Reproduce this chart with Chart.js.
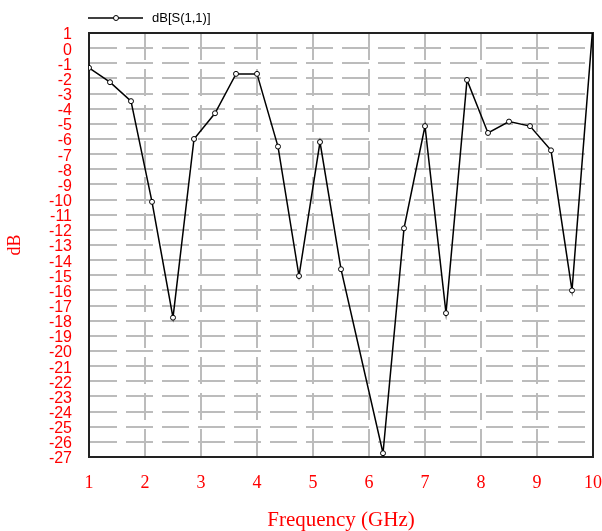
<!DOCTYPE html>
<html>
<head>
<meta charset="utf-8">
<script src="https://cdn.jsdelivr.net/npm/chart.js@4/dist/chart.umd.min.js"></script>
<style>
  html, body { margin: 0; padding: 0; background: #fff; }
  #wrap { width: 602px; height: 531px; }
</style>
</head>
<body>
<div id="wrap"><canvas id="s11Chart" width="602" height="531"></canvas></div>
<script>
// sweep points (GHz) and return loss (dB)
const freqGHz = [1, 1.375, 1.75, 2.125, 2.5, 2.875, 3.25, 3.625, 4.0, 4.375, 4.75, 5.125,
                 5.5, 6.25, 6.625, 7.0, 7.375, 7.75, 8.125, 8.5, 8.875, 9.25, 9.625, 10];
const s11dB = [-1.3, -2.25, -3.5, -10.15, -17.8, -6.0, -4.3, -1.7, -1.7, -6.5, -15.05, -6.2,
               -14.6, -26.75, -11.9, -5.15, -17.5, -2.1, -5.6, -4.85, -5.15, -6.75, -16.0, 1.6];
const seriesName = 'dB[S(1,1)]';
const xTitle = 'Frequency (GHz)';
const yTitle = 'dB';

const RED = '#ff0000';
const GRID = '#bcbcbc';

// frame around the plot + legend line with marker
const framePlugin = {
    id: 'frame',
    beforeDatasetsDraw(chart) {
        const { ctx, chartArea: a } = chart;
        ctx.save();
        ctx.strokeStyle = '#222';
        ctx.lineWidth = 2;
        ctx.strokeRect(a.left, a.top, a.right - a.left, a.bottom - a.top);
        ctx.restore();
    },
    afterDraw(chart) {
        const ctx = chart.ctx;
        const ds = chart.data.datasets[0];
        ctx.save();
        ctx.strokeStyle = '#000';
        ctx.lineWidth = 1.5;
        ctx.beginPath();
        ctx.moveTo(88, 18);
        ctx.lineTo(143, 18);
        ctx.stroke();
        ctx.beginPath();
        ctx.arc(116, 18, 2.5, 0, Math.PI * 2);
        ctx.fillStyle = '#fff';
        ctx.fill();
        ctx.lineWidth = 1;
        ctx.stroke();
        ctx.fillStyle = '#000';
        ctx.font = '13px "Liberation Sans", sans-serif';
        ctx.textBaseline = 'middle';
        ctx.fillText(ds.label, 152, 18);
        ctx.restore();
    }
};

const ctx = document.getElementById('s11Chart').getContext('2d');
new Chart(ctx, {
    type: 'line',
    data: {
        datasets: [{
            label: seriesName,
            data: freqGHz.map((f, i) => ({ x: f, y: s11dB[i] })),
            borderColor: '#000',
            borderWidth: 1.5,
            pointRadius: 2.5,
            pointBorderWidth: 1,
            pointBackgroundColor: '#fff',
            pointBorderColor: '#000',
            tension: 0
        }]
    },
    options: {
        responsive: false,
        animation: false,
        layout: { padding: { top: 33, right: 9, left: 0, bottom: 0 } },
        plugins: {
            legend: { display: false },
            tooltip: { enabled: false }
        },
        scales: {
            x: {
                type: 'linear',
                min: 1,
                max: 10,
                afterFit: s => { s.height = 74; s.paddingLeft = 0; s.paddingRight = 0; },
                ticks: {
                    stepSize: 1,
                    color: RED,
                    padding: 15,
                    maxRotation: 0,
                    font: { family: '"Liberation Serif", serif', size: 18 }
                },
                grid: { color: GRID, lineWidth: 2, drawTicks: false },
                border: { color: '#222', width: 2, dash: [27, 9] },
                title: {
                    display: true,
                    text: xTitle,
                    color: RED,
                    padding: { top: 0, bottom: 0 },
                    font: { family: '"Liberation Serif", serif', size: 21, lineHeight: 1.0 }
                }
            },
            y: {
                min: -27,
                max: 1,
                afterFit: s => { s.width = 89; s.paddingTop = 0; s.paddingBottom = 0; },
                ticks: {
                    stepSize: 1,
                    autoSkip: false,
                    color: RED,
                    padding: 17,
                    labelOffset: 2,
                    font: { family: '"Liberation Sans", sans-serif', size: 16 }
                },
                grid: { color: GRID, lineWidth: 2, drawTicks: false },
                border: { color: '#222', width: 2, dash: [27, 9] },
                title: {
                    display: true,
                    text: yTitle,
                    color: RED,
                    padding: { top: 4, bottom: 0 },
                    font: { family: '"Liberation Serif", serif', size: 18 }
                }
            }
        }
    },
    plugins: [framePlugin]
});
</script>
</body>
</html>
